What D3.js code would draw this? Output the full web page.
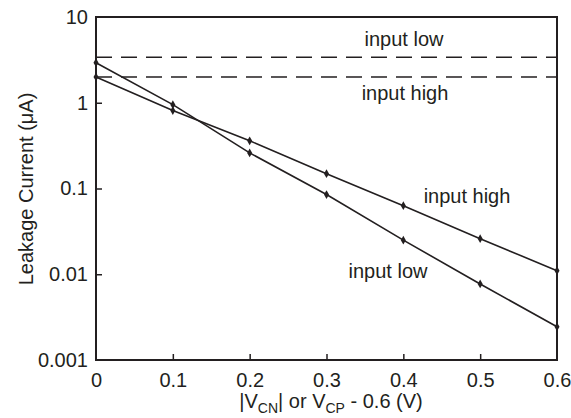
<!DOCTYPE html>
<html>
<head>
<meta charset="utf-8">
<script src="https://cdn.jsdelivr.net/npm/d3@7"></script>
<style>
body { margin: 0; background: #fff; }
text { font-family: "Liberation Sans", Arial, sans-serif; fill: #231f20; }
</style>
</head>
<body>
<script>
// data
var voltages = [0, 0.1, 0.2, 0.3, 0.4, 0.5, 0.6];
var inputLow = [2.93, 0.95, 0.26, 0.085, 0.025, 0.0077, 0.00244];
var inputHigh = [2.0, 0.81, 0.36, 0.149, 0.063, 0.026, 0.011];
var dashLow = 3.4;   // dashed reference, input low
var dashHigh = 2.0;  // dashed reference, input high
var xTicks = [0, 0.1, 0.2, 0.3, 0.4, 0.5, 0.6];
var yTicks = [0.001, 0.01, 0.1, 1, 10];
var yTickLabels = ["0.001", "0.01", "0.1", "1", "10"];

var w = 571, h = 418;
var m = {l: 96, r: 14, t: 17, b: 58};
var fs = "20px";

var svg = d3.select("body").append("svg")
	.attr("width", w)
	.attr("height", h);

var x = d3.scaleLinear().domain([0, 0.6]).range([m.l, w - m.r]);
var y = d3.scaleLog().domain([0.001, 10]).range([h - m.b, m.t]);

var ink = "#231f20";

// frame
svg.append("rect")
	.attr("x", x(0)).attr("y", y(10))
	.attr("width", x(0.6) - x(0)).attr("height", y(0.001) - y(10))
	.attr("fill", "none").attr("stroke", ink).attr("stroke-width", 2);

// axes, ticks inward
var xAxis = d3.axisBottom(x).tickValues(xTicks).tickSize(-6).tickPadding(13)
	.tickFormat(function(d) { return d === 0 ? "0" : d3.format(".1f")(d); });
var gx = svg.append("g").attr("transform", "translate(0," + y(0.001) + ")").call(xAxis);

var yAxis = d3.axisLeft(y).tickValues(yTicks).tickSize(-6).tickPadding(8)
	.tickFormat(function(d, i) { return yTickLabels[i]; });
var gy = svg.append("g").attr("transform", "translate(" + x(0) + ",0)").call(yAxis);

[gx, gy].forEach(function(g) {
	g.select(".domain").remove();
	g.selectAll("line").attr("stroke", ink).attr("stroke-width", 1.5);
	g.selectAll("text").style("font-size", fs).attr("fill", ink)
		.style("font-family", "'Liberation Sans', Arial, sans-serif");
});
gx.selectAll("line").filter(function(d) { return d === 0 || d === 0.6; }).remove();
gy.selectAll("line").filter(function(d) { return d === 10 || d === 0.001; }).remove();

// dashed lines
[dashLow, dashHigh].forEach(function(v) {
	svg.append("line")
		.attr("x1", x(0)).attr("x2", x(0.6))
		.attr("y1", y(v)).attr("y2", y(v))
		.attr("stroke", ink).attr("stroke-width", 1.5)
		.attr("stroke-dasharray", "16,9");
});

// series
var line = d3.line()
	.x(function(d, i) { return x(voltages[i]); })
	.y(function(d) { return y(d); });

[inputLow, inputHigh].forEach(function(s) {
	svg.append("path")
		.attr("d", line(s))
		.attr("fill", "none").attr("stroke", ink).attr("stroke-width", 1.6);
	svg.selectAll(null)
		.data(s)
		.enter()
		.append("path")
		.attr("d", d3.symbol(d3.symbolDiamond, 22))
		.attr("transform", function(d, i) { return "translate(" + x(voltages[i]) + "," + y(d) + ")"; })
		.attr("fill", ink);
});

// labels
function label(tx, ty, t) {
	svg.append("text").attr("x", tx).attr("y", ty)
		.attr("text-anchor", "middle").style("font-size", fs).text(t);
}
label(404, 46, "input low");
label(405, 100, "input high");
label(467, 203, "input high");
label(388, 278, "input low");

// y title
svg.append("text")
	.attr("transform", "translate(33,189) rotate(-90)")
	.attr("text-anchor", "middle").style("font-size", fs)
	.text("Leakage Current (\u03bcA)");

// x title with subscripts
var xt = svg.append("text")
	.attr("x", 331).attr("y", 408)
	.attr("text-anchor", "middle").style("font-size", fs);
xt.append("tspan").text("|V");
xt.append("tspan").attr("dy", 5).style("font-size", "14px").text("CN");
xt.append("tspan").attr("dy", -5).text("| or V");
xt.append("tspan").attr("dy", 5).style("font-size", "14px").text("CP");
xt.append("tspan").attr("dy", -5).text(" - 0.6 (V)");
</script>
</body>
</html>
